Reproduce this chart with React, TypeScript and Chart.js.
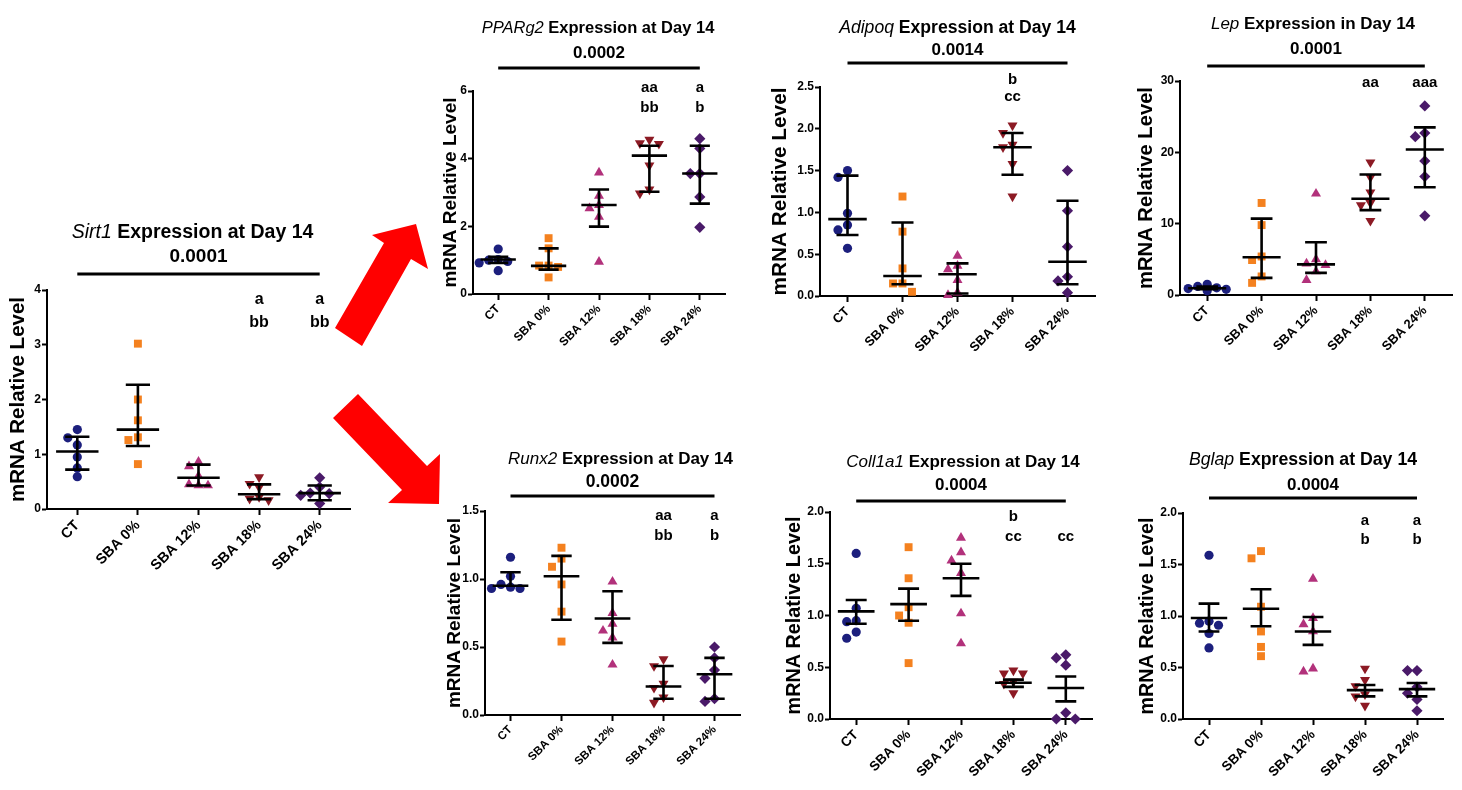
import React, { useEffect, useRef } from 'react';
import { Chart, registerables } from 'chart.js';

Chart.register(...registerables);

const FONT = '"Liberation Sans", Arial, Helvetica, sans-serif';
Chart.defaults.font.family = FONT;
Chart.defaults.color = '#000';

// ---------- shared categories / styling ----------
const groups = ['CT', 'SBA 0%', 'SBA 12%', 'SBA 18%', 'SBA 24%'];
const groupColors = ['#1c1f7d', '#f4811f', '#b2317b', '#8c1a24', '#4a1a69'];
const groupShapes = ['circle', 'rect', 'triangle', 'triangle', 'rectRot'];
const groupRotations = [0, 0, 0, 180, 0];
const groupRadii = [4.6, 5.6, 5.8, 5.8, 5.6];

// ---------- Sirt1 ----------
const sirt1Values = [
  [1.45, 1.30, 1.17, 0.95, 0.75, 0.59],
  [3.02, 2.00, 1.62, 1.31, 1.26, 0.82],
  [0.86, 0.78, 0.60, 0.45, 0.43, 0.43],
  [0.58, 0.46, 0.40, 0.22, 0.16, 0.19],
  [0.57, 0.40, 0.29, 0.28, 0.25, 0.10],
];
const sirt1Median = [1.05, 1.45, 0.57, 0.27, 0.29];
const sirt1Low = [0.72, 1.15, 0.43, 0.18, 0.16];
const sirt1High = [1.32, 2.27, 0.81, 0.45, 0.43];
const sirt1SigTop = ['', '', '', 'a', 'a'];
const sirt1SigBottom = ['', '', '', 'bb', 'bb'];
const sirt1YTicks = ['0', '1', '2', '3', '4'];

// ---------- PPARg2 ----------
const ppargValues = [
  [1.33, 1.02, 1.00, 0.96, 0.92, 0.69],
  [1.65, 1.35, 0.84, 0.84, 0.80, 0.49],
  [3.59, 2.90, 2.63, 2.53, 2.28, 0.95],
  [4.56, 4.44, 4.46, 3.80, 3.09, 2.97],
  [4.59, 4.30, 3.56, 3.56, 2.87, 1.97],
];
const ppargMedian = [1.02, 0.83, 2.63, 4.09, 3.56];
const ppargLow = [0.92, 0.72, 1.99, 3.02, 2.67];
const ppargHigh = [1.10, 1.35, 3.09, 4.38, 4.38];
const ppargSigTop = ['', '', '', 'aa', 'a'];
const ppargSigBottom = ['', '', '', 'bb', 'b'];
const ppargYTicks = ['0', '2', '4', '6'];

// ---------- Adipoq ----------
const adipoqValues = [
  [1.50, 1.42, 0.99, 0.85, 0.79, 0.57],
  [1.19, 0.77, 0.33, 0.15, 0.15, 0.05],
  [0.48, 0.36, 0.32, 0.19, 0.04, 0.01],
  [2.04, 1.95, 1.81, 1.78, 1.58, 1.19],
  [1.50, 1.02, 0.59, 0.23, 0.18, 0.04],
];
const adipoqMedian = [0.92, 0.24, 0.26, 1.78, 0.41];
const adipoqLow = [0.73, 0.14, 0.03, 1.45, 0.14];
const adipoqHigh = [1.44, 0.88, 0.39, 1.95, 1.14];
const adipoqSigTop = ['', '', '', 'b', ''];
const adipoqSigBottom = ['', '', '', 'cc', ''];
const adipoqYTicks = ['0.0', '0.5', '1.0', '1.5', '2.0', '2.5'];

// ---------- Lep ----------
const lepValues = [
  [1.5, 1.2, 1.0, 0.9, 0.8, 0.6],
  [12.9, 9.8, 5.4, 4.9, 2.6, 1.7],
  [14.2, 5.0, 4.4, 4.2, 3.3, 2.1],
  [18.6, 16.5, 14.4, 12.9, 12.6, 10.4],
  [26.5, 22.7, 22.2, 18.8, 16.6, 11.1],
];
const lepMedian = [0.95, 5.3, 4.3, 13.5, 20.4];
const lepLow = [0.8, 2.4, 3.1, 11.9, 15.1];
const lepHigh = [1.2, 10.7, 7.4, 16.9, 23.5];
const lepSigTop = ['', '', '', 'aa', 'aaa'];
const lepSigBottom = ['', '', '', '', ''];
const lepYTicks = ['0', '10', '20', '30'];

// ---------- Runx2 ----------
const runx2Values = [
  [1.16, 1.02, 0.96, 0.94, 0.93, 0.93],
  [1.23, 1.15, 1.09, 0.96, 0.76, 0.54],
  [0.98, 0.75, 0.67, 0.62, 0.57, 0.37],
  [0.41, 0.36, 0.23, 0.20, 0.13, 0.09],
  [0.50, 0.42, 0.33, 0.27, 0.12, 0.10],
];
const runx2Median = [0.95, 1.02, 0.71, 0.21, 0.30];
const runx2Low = [0.95, 0.70, 0.53, 0.12, 0.12];
const runx2High = [1.05, 1.17, 0.91, 0.36, 0.42];
const runx2SigTop = ['', '', '', 'aa', 'a'];
const runx2SigBottom = ['', '', '', 'bb', 'b'];
const runx2YTicks = ['0.0', '0.5', '1.0', '1.5'];

// ---------- Coll1a1 ----------
const collValues = [
  [1.60, 1.07, 0.95, 0.94, 0.84, 0.78],
  [1.66, 1.36, 1.08, 1.00, 0.93, 0.54],
  [1.75, 1.61, 1.53, 1.41, 1.02, 0.73],
  [0.47, 0.44, 0.44, 0.36, 0.34, 0.25],
  [0.62, 0.59, 0.52, 0.06, 0.00, 0.00],
];
const collMedian = [1.04, 1.11, 1.36, 0.35, 0.30];
const collLow = [0.92, 0.95, 1.19, 0.31, 0.17];
const collHigh = [1.15, 1.26, 1.50, 0.38, 0.41];
const collSigTop = ['', '', '', 'b', ''];
const collSigBottom = ['', '', '', 'cc', 'cc'];
const collYTicks = ['0.0', '0.5', '1.0', '1.5', '2.0'];

// ---------- Bglap ----------
const bglapValues = [
  [1.59, 0.95, 0.93, 0.91, 0.83, 0.69],
  [1.63, 1.56, 1.09, 0.85, 0.70, 0.61],
  [1.36, 0.98, 0.92, 0.85, 0.49, 0.46],
  [0.49, 0.38, 0.32, 0.24, 0.22, 0.13],
  [0.47, 0.47, 0.31, 0.25, 0.19, 0.08],
];
const bglapMedian = [0.98, 1.07, 0.85, 0.28, 0.29];
const bglapLow = [0.85, 0.90, 0.72, 0.22, 0.22];
const bglapHigh = [1.12, 1.26, 0.99, 0.33, 0.35];
const bglapSigTop = ['', '', '', 'a', 'a'];
const bglapSigBottom = ['', '', '', 'b', 'b'];
const bglapYTicks = ['0.0', '0.5', '1.0', '1.5', '2.0'];

type Spec = {
  gene: string; rest: string; pval: string;
  values: number[][]; median: number[]; low: number[]; high: number[];
  sigTop: string[]; sigBottom: string[]; yTicks: string[];
  // layout (page pixels)
  axisX: number; plotTop: number; plotBottom: number; plotRight: number;
  yTitleGap: number; yTitleSize: number; xTickSize: number;
  titleDx: number; titleDy: number; pDy: number; lineDy: number;
  sig1Dy: number; sig2Dy: number; titleSize: number; pSize: number; sigSize: number;
};

const panels: Spec[] = [
  { gene: 'Sirt1', rest: ' Expression at Day 14', pval: '0.0001', values: sirt1Values, median: sirt1Median, low: sirt1Low, high: sirt1High, sigTop: sirt1SigTop, sigBottom: sirt1SigBottom, yTicks: sirt1YTicks,
    axisX: 47, plotTop: 290, plotBottom: 509, plotRight: 350, yTitleGap: 28.5, yTitleSize: 20.5, xTickSize: 14.5, titleDx: -6, titleDy: -57, pDy: -33, lineDy: -16, sig1Dy: 10, sig2Dy: 33, titleSize: 19.5, pSize: 19, sigSize: 16 },
  { gene: 'PPARg2', rest: ' Expression at Day 14', pval: '0.0002', values: ppargValues, median: ppargMedian, low: ppargLow, high: ppargHigh, sigTop: ppargSigTop, sigBottom: ppargSigBottom, yTicks: ppargYTicks,
    axisX: 473, plotTop: 91, plotBottom: 294, plotRight: 725, yTitleGap: 22, yTitleSize: 19, xTickSize: 12, titleDx: -1, titleDy: -63, pDy: -38, lineDy: -23, sig1Dy: -3, sig2Dy: 17, titleSize: 16.5, pSize: 17, sigSize: 15 },
  { gene: 'Adipoq', rest: ' Expression at Day 14', pval: '0.0014', values: adipoqValues, median: adipoqMedian, low: adipoqLow, high: adipoqHigh, sigTop: adipoqSigTop, sigBottom: adipoqSigBottom, yTicks: adipoqYTicks,
    axisX: 820, plotTop: 87, plotBottom: 296, plotRight: 1095, yTitleGap: 40, yTitleSize: 20.8, xTickSize: 13, titleDx: 0, titleDy: -59, pDy: -37, lineDy: -24, sig1Dy: -7, sig2Dy: 10, titleSize: 17.6, pSize: 17, sigSize: 15 },
  { gene: 'Lep', rest: ' Expression in Day 14', pval: '0.0001', values: lepValues, median: lepMedian, low: lepLow, high: lepHigh, sigTop: lepSigTop, sigBottom: lepSigBottom, yTicks: lepYTicks,
    axisX: 1180, plotTop: 81, plotBottom: 295, plotRight: 1452, yTitleGap: 34, yTitleSize: 20.2, xTickSize: 13, titleDx: -3, titleDy: -57, pDy: -32, lineDy: -15, sig1Dy: 2, sig2Dy: 22, titleSize: 17, pSize: 17, sigSize: 15 },
  { gene: 'Runx2', rest: ' Expression at Day 14', pval: '0.0002', values: runx2Values, median: runx2Median, low: runx2Low, high: runx2High, sigTop: runx2SigTop, sigBottom: runx2SigBottom, yTicks: runx2YTicks,
    axisX: 485, plotTop: 511, plotBottom: 715, plotRight: 740, yTitleGap: 30.5, yTitleSize: 19, xTickSize: 11.5, titleDx: 8, titleDy: -52, pDy: -29, lineDy: -15, sig1Dy: 5, sig2Dy: 25, titleSize: 17, pSize: 17.5, sigSize: 15 },
  { gene: 'Coll1a1', rest: ' Expression at Day 14', pval: '0.0004', values: collValues, median: collMedian, low: collLow, high: collHigh, sigTop: collSigTop, sigBottom: collSigBottom, yTicks: collYTicks,
    axisX: 830, plotTop: 512, plotBottom: 719, plotRight: 1092, yTitleGap: 35.5, yTitleSize: 19.8, xTickSize: 13.5, titleDx: 2, titleDy: -50, pDy: -27, lineDy: -11, sig1Dy: 5, sig2Dy: 25, titleSize: 17, pSize: 17, sigSize: 15 },
  { gene: 'Bglap', rest: ' Expression at Day 14', pval: '0.0004', values: bglapValues, median: bglapMedian, low: bglapLow, high: bglapHigh, sigTop: bglapSigTop, sigBottom: bglapSigBottom, yTicks: bglapYTicks,
    axisX: 1183, plotTop: 513, plotBottom: 719, plotRight: 1443, yTitleGap: 35.5, yTitleSize: 19.7, xTickSize: 13.5, titleDx: -10, titleDy: -53, pDy: -28, lineDy: -15, sig1Dy: 8, sig2Dy: 27, titleSize: 17.7, pSize: 17, sigSize: 15 },
];

const X_AXIS_H = 88;
const RIGHT_PAD = 14;
const TOP_ROOM = 80;

function layoutOf(s: Spec) {
  const lh = s.yTitleSize * 1.2;
  const yw = s.yTitleGap + lh / 2 + 2;
  const left = Math.round(s.axisX - yw);
  const yWidth = s.axisX - left;
  const top = s.plotTop - TOP_ROOM;
  const width = s.plotRight + RIGHT_PAD - left;
  const height = s.plotBottom - top + X_AXIS_H;
  const titlePad = yWidth - s.yTitleGap - lh / 2;
  return { left, top, width, height, yWidth, titlePad };
}

function decorPlugin(s: Spec) {
  return {
    id: 'prismDecor',
    afterDatasetsUpdate(chart: any) {
      const step = 9.5;
      const offsets = [0, -1, 1, -2, 2, -0.5, 0.5, -1.5, 1.5];
      chart.data.datasets.forEach((_: any, di: number) => {
        const meta = chart.getDatasetMeta(di);
        const els = meta.data as any[];
        const order = els.map((_e, i) => i).sort((a, b) => els[a].y - els[b].y);
        const placed: { x: number; y: number }[] = [];
        order.forEach((i) => {
          const el = els[i];
          const cx = el.x;
          let bestX = cx;
          let bestD = -1;
          for (const k of offsets) {
            const x = cx + k * step;
            const d = placed.length ? Math.min(...placed.map((p) => Math.hypot(p.x - x, p.y - el.y))) : Infinity;
            if (d >= step * 0.92) { bestX = x; bestD = d; break; }
            if (d > bestD) { bestD = d; bestX = x; }
          }
          el.x = bestX;
          placed.push({ x: bestX, y: el.y });
        });
      });
    },
    afterDatasetsDraw(chart: any) {
      const { ctx } = chart;
      const xs = chart.scales.x;
      const ys = chart.scales.y;
      const band = xs.getPixelForValue(1) - xs.getPixelForValue(0);
      ctx.save();
      ctx.strokeStyle = '#000';
      ctx.lineWidth = 2.6;
      ctx.lineCap = 'butt';
      for (let i = 0; i < groups.length; i++) {
        const x = xs.getPixelForValue(i);
        const yM = ys.getPixelForValue(s.median[i]);
        const yL = ys.getPixelForValue(s.low[i]);
        const yH = ys.getPixelForValue(s.high[i]);
        ctx.beginPath();
        ctx.moveTo(x, yH); ctx.lineTo(x, yL);
        ctx.moveTo(x - band * 0.35, yM); ctx.lineTo(x + band * 0.35, yM);
        ctx.moveTo(x - band * 0.2, yH); ctx.lineTo(x + band * 0.2, yH);
        ctx.moveTo(x - band * 0.2, yL); ctx.lineTo(x + band * 0.2, yL);
        ctx.stroke();
      }
      ctx.restore();
    },
    afterDraw(chart: any) {
      const { ctx, chartArea } = chart;
      const xs = chart.scales.x;
      const cx = (chartArea.left + chartArea.right) / 2;
      const top = chartArea.top;
      ctx.save();
      ctx.fillStyle = '#000';
      ctx.textBaseline = 'middle';
      const italic = `italic ${s.titleSize}px ${FONT}`;
      const bold = `bold ${s.titleSize}px ${FONT}`;
      ctx.font = italic;
      const w1 = ctx.measureText(s.gene).width;
      ctx.font = bold;
      const w2 = ctx.measureText(s.rest).width;
      const sx = cx + s.titleDx - (w1 + w2) / 2;
      const ty = top + s.titleDy;
      ctx.textAlign = 'left';
      ctx.font = italic;
      ctx.fillText(s.gene, sx, ty);
      ctx.font = bold;
      ctx.fillText(s.rest, sx + w1, ty);
      ctx.textAlign = 'center';
      ctx.font = `bold ${s.pSize}px ${FONT}`;
      ctx.fillText(s.pval, cx, top + s.pDy);
      ctx.strokeStyle = '#000';
      ctx.lineWidth = 3;
      ctx.beginPath();
      const ly = top + s.lineDy;
      ctx.moveTo(xs.getPixelForValue(0), ly);
      ctx.lineTo(xs.getPixelForValue(groups.length - 1), ly);
      ctx.stroke();
      ctx.font = `bold ${s.sigSize}px ${FONT}`;
      s.sigTop.forEach((t, i) => { if (t) ctx.fillText(t, xs.getPixelForValue(i), top + s.sig1Dy); });
      s.sigBottom.forEach((t, i) => { if (t) ctx.fillText(t, xs.getPixelForValue(i), top + s.sig2Dy); });
      ctx.restore();
    },
  };
}

function Panel({ spec }: { spec: Spec }) {
  const ref = useRef<HTMLCanvasElement>(null);
  const L = layoutOf(spec);
  useEffect(() => {
    const yNums = spec.yTicks.map(Number);
    const yMax = yNums[yNums.length - 1];
    const step = yNums[1] - yNums[0];
    const decimals = spec.yTicks[1].includes('.') ? 1 : 0;
    const chart = new Chart(ref.current as HTMLCanvasElement, {
      type: 'scatter',
      data: {
        labels: groups,
        datasets: groups.map((g, gi) => ({
          label: g,
          data: spec.values[gi].map((v) => ({ x: g, y: v })),
          pointStyle: groupShapes[gi] as any,
          rotation: groupRotations[gi],
          radius: groupRadii[gi],
          backgroundColor: groupColors[gi],
          borderColor: groupColors[gi],
          borderWidth: 0,
          clip: false as any,
        })),
      } as any,
      options: {
        responsive: false,
        animation: false,
        events: [],
        layout: { padding: { top: TOP_ROOM, right: RIGHT_PAD, left: 0, bottom: 0 } },
        plugins: { legend: { display: false }, tooltip: { enabled: false }, title: { display: false } },
        scales: {
          x: {
            type: 'category',
            offset: true,
            grid: { display: true, drawOnChartArea: false, drawTicks: true, tickLength: 6, tickWidth: 2, tickColor: '#000', offset: false },
            border: { display: true, color: '#000', width: 2 },
            ticks: { minRotation: 45, maxRotation: 45, autoSkip: false, padding: 2, color: '#000', font: { size: spec.xTickSize, weight: 'bold' } },
            afterFit: (sc: any) => { sc.height = X_AXIS_H; },
          },
          y: {
            type: 'linear',
            min: 0,
            max: yMax,
            grid: { display: true, drawOnChartArea: false, drawTicks: true, tickLength: 5, tickWidth: 2, tickColor: '#000' },
            border: { display: true, color: '#000', width: 2 },
            ticks: { stepSize: step, padding: 1, color: '#000', font: { size: 12, weight: 'bold' }, callback: (v: any) => Number(v).toFixed(decimals) },
            title: { display: true, text: 'mRNA Relative Level', color: '#000', font: { size: spec.yTitleSize, weight: 'bold' }, padding: { top: L.titlePad, bottom: 0 } },
            afterFit: (sc: any) => { sc.width = L.yWidth; },
          },
        },
      } as any,
      plugins: [decorPlugin(spec) as any],
    });
    return () => chart.destroy();
  }, []);
  return (
    <canvas
      ref={ref}
      width={L.width}
      height={L.height}
      style={{ position: 'absolute', left: L.left, top: L.top, width: L.width, height: L.height }}
    />
  );
}

function Arrows() {
  return (
    <svg width={1462} height={790} style={{ position: 'absolute', left: 0, top: 0, pointerEvents: 'none' }}>
      <polygon points="335,328 384,243 372,235 416,224 428,269 411,259 362,346" fill="#ff0000" />
      <polygon points="358,394 427,466 440,454 439,504 388,503 402,490 333,418" fill="#ff0000" />
    </svg>
  );
}

export default function App() {
  return (
    <div style={{ position: 'fixed', left: 0, top: 0, width: 1462, height: 790, background: '#fff', overflow: 'hidden' }}>
      {panels.map((p) => (
        <Panel key={p.gene} spec={p} />
      ))}
      <Arrows />
    </div>
  );
}
